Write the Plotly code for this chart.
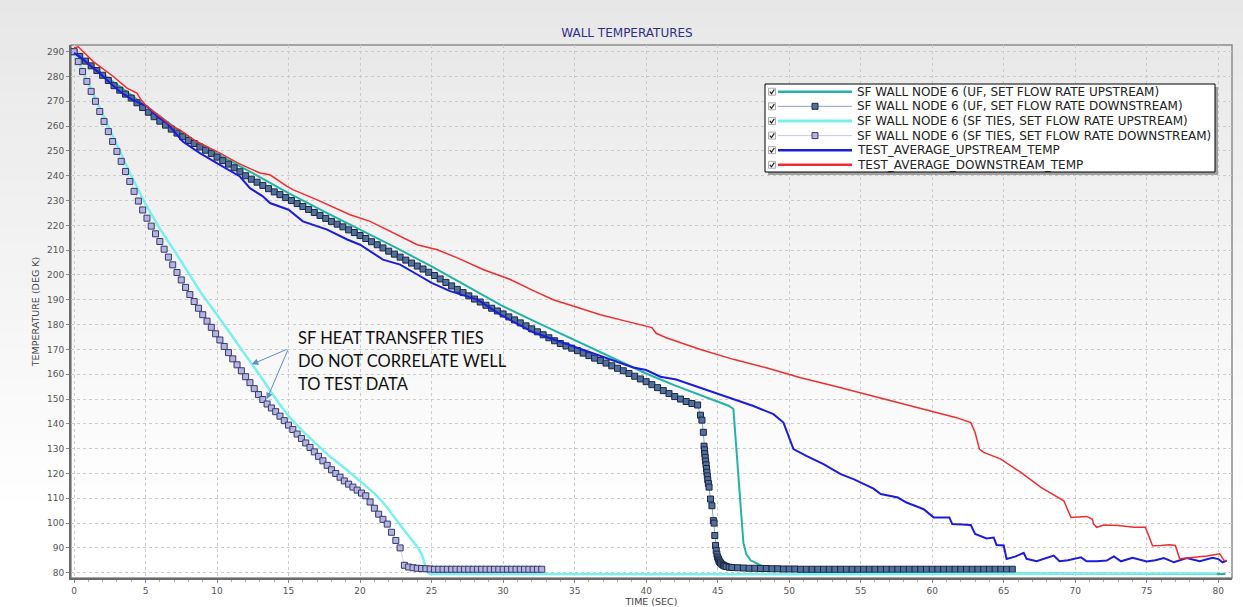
import plotly.graph_objects as go

# ---------------- data ----------------
# SF WALL NODE 6 (UF, SET FLOW RATE UPSTREAM)
UF_UP_TIME = [0, 1, 2, 3, 4, 5, 7.5, 10, 12.3, 15, 17.5, 20, 22.5, 25, 27.5, 30, 32.5, 35, 37.5,
              40, 42, 44, 45, 45.8, 46.1, 46.3, 46.5, 46.6, 46.7, 46.8, 47.0, 47.3, 48, 49, 50,
              52, 55, 60, 65, 70, 75, 80.5]
UF_UP_TEMP = [290, 285.3, 281, 276.8, 272.5, 268.3, 257.5, 248.8, 241.7, 233, 225.5, 218.3, 211,
              203.5, 195.5, 187.4, 180.5, 173.7, 167, 160.3, 155.5, 151, 149, 147.2, 146, 130,
              115, 108, 99, 92, 87.5, 85, 83, 81.5, 80.8, 80.3, 80, 79.8, 79.6, 79.5, 79.5, 79.5]

# SF WALL NODE 6 (UF, SET FLOW RATE DOWNSTREAM) - marker series, three pieces
UF_DN_A_START = 0.0
UF_DN_A_STEP = 0.4
UF_DN_A_TEMP = [
    290, 288.1, 286.2, 284.3, 282.4, 280.5, 278.4, 276.3, 274.5, 272.9,
    271.3, 269.4, 267.5, 265.6, 263.8, 262, 260.4, 258.8, 257.2, 255.7,
    254.2, 253, 251.6, 250.3, 249, 247.5, 246.1, 244.7, 243.2, 241.6,
    240, 238.6, 237.4, 236.1, 234.8, 233.5, 232.4, 231.2, 230, 228.8,
    227.6, 226.4, 225.2, 224, 222.8, 221.6, 220.5, 219.4, 218.2, 217.1,
    215.9, 214.7, 213.4, 212.2, 210.9, 209.6, 208.4, 207.2, 206, 204.8,
    203.6, 202.4, 201.1, 199.8, 198.4, 197, 195.6, 194.2, 192.9, 191.6,
    190.3, 189.1, 187.8, 186.6, 185.5, 184.3, 183.1, 181.9, 180.7, 179.5,
    178.3, 177.1, 175.9, 174.7, 173.5, 172.4, 171.4, 170.5, 169.5, 168.5,
    167.5, 166.5, 165.5, 164.5, 163.4, 162.4, 161.4, 160.3, 159.2, 158.1,
    157, 155.8, 154.6, 153.4, 152.2, 151, 150, 149, 148.2, 147.6]
UF_DN_DROP_TIME = [43.8, 43.9, 44.0, 44.05, 44.08, 44.1, 44.13, 44.16, 44.19, 44.22, 44.25,
                   44.28, 44.31, 44.35, 44.4, 44.5, 44.6, 44.7, 44.75, 44.8, 44.85, 44.9,
                   44.95, 45.0, 45.05, 45.1, 45.15, 45.2, 45.3, 45.4, 45.5, 45.6, 45.8]
UF_DN_DROP_TEMP = [143.5, 141.5, 136.6, 131, 129.5, 128, 126.5, 125, 123.5, 122, 120.5,
                   119, 117.5, 116, 114.5, 109.7, 107, 101, 100, 95, 91, 89,
                   87.5, 86.3, 85.5, 84.8, 84.3, 83.9, 83.4, 83, 82.7, 82.5, 82.2]
UF_DN_C_START = 46.0
UF_DN_C_STEP = 0.4
UF_DN_C_TEMP = [
    82.1, 82.0, 81.9, 81.8, 81.8, 81.7, 81.7, 81.6, 81.6, 81.5,
    81.5, 81.5, 81.4, 81.4, 81.4, 81.4, 81.4, 81.4, 81.4, 81.4,
    81.4, 81.4, 81.4, 81.4, 81.4, 81.4, 81.4, 81.4, 81.4, 81.4,
    81.4, 81.4, 81.4, 81.4, 81.4, 81.4, 81.4, 81.4, 81.4, 81.4,
    81.4, 81.4, 81.4, 81.4, 81.4, 81.4, 81.4, 81.4, 81.4, 81.4]

# SF WALL NODE 6 (SF TIES, SET FLOW RATE UPSTREAM)
TIES_UP_TIME = [0, 1, 2, 3, 4, 5, 6, 7, 8, 9, 10, 11, 12, 12.5, 13, 13.7, 14.4, 15.1, 16, 17,
                18, 19, 20, 21, 21.5, 22, 22.5, 23, 23.5, 24, 24.3, 24.5, 24.7, 24.9, 30, 40,
                50, 60, 70, 79.9]
TIES_UP_TEMP = [290, 277.5, 264.5, 252, 240, 228.6, 218.7, 209.9, 201, 191.8, 184, 176,
                168, 164, 159.5, 153.5, 147.7, 142.5, 137, 131.5, 126.3, 121.8, 117, 112,
                109, 105.5, 101.5, 97.5, 94, 90.5, 87.5, 84, 80.3, 79.5, 79.4, 79.4, 79.4,
                79.5, 79.6, 79.7]

# SF WALL NODE 6 (SF TIES, SET FLOW RATE DOWNSTREAM) - marker series
TIES_DN_START = 0.0
TIES_DN_STEP = 0.3
TIES_DN_TEMP = [
    290, 286, 282, 278, 274, 270, 265.9, 261.9, 257.8, 253.8,
    249.8, 245.8, 241.7, 237.7, 233.7, 229.8, 226.2, 222.9, 219.7, 216.6,
    213.5, 210.4, 207.2, 204.1, 201, 198, 195, 192.1, 189.3, 186.6,
    184, 181.4, 178.9, 176.3, 173.8, 171.2, 168.7, 166.2, 163.8, 161.4,
    159, 156.6, 154.2, 151.8, 149.8, 148, 146.4, 144.9, 143.1, 141.3,
    139.5, 137.7, 135.9, 134.1, 132.3, 130.5, 128.7, 126.9, 125.1, 123.3,
    121.5, 120, 118.5, 117, 115.7, 114.5, 113.3, 112.1, 111, 108.5,
    106, 103.6, 101.5, 99.6, 96.3, 93, 90, 83, 82.3, 82,
    81.8, 81.7, 81.6, 81.5, 81.4, 81.4, 81.4, 81.4, 81.4, 81.4,
    81.4, 81.4, 81.4, 81.4, 81.4, 81.4, 81.4, 81.4, 81.4, 81.4,
    81.4, 81.4, 81.4, 81.4, 81.4, 81.4, 81.4, 81.4, 81.4, 81.4]

# TEST_AVERAGE_UPSTREAM_TEMP
TEST_UP_TIME = [0, 0.5, 1.0, 1.8, 2.5, 3.3, 4.1, 5.1, 5.8, 6.5, 7.6, 8.8, 10.2, 11.6, 12.3, 13.2,
                13.7, 15, 16, 17.7, 19.1, 20, 21.6, 22.8, 24, 25, 26.3, 28.2, 29.6, 30, 32.1,
                33.5, 35, 37, 39.1, 40, 41, 42.1, 43.8, 45.2, 46.1, 47.5, 48.9, 49.6, 49.9,
                50.1, 50.3, 51.2, 52.4, 53.6, 54.5, 55.9, 56.4, 57.6, 58.2, 59.4, 59.8, 60.1,
                61.2, 61.4, 62.7, 63.0, 63.8, 64.3, 64.5, 65.0, 65.2, 65.8, 66.4, 66.6, 67.3,
                68.0, 68.5, 68.9, 69.5, 70.4, 70.8, 71.5, 72.2, 72.7, 73.2, 74.0, 75.0, 75.6,
                76.2, 76.9, 77.8, 78.7, 79.6, 80.0, 80.3, 80.6]
TEST_UP_TEMP = [289.5, 287.5, 285, 281.3, 277.5, 273.5, 270.6, 268, 264, 261.2, 253.8, 249.1,
                244.4, 239.7, 235, 231.7, 229, 226.3, 221.6, 218.3, 214.3, 212.2, 206.2, 204.2,
                200.2, 196.8, 193.5, 190.1, 184.8, 183.4, 176.9, 174, 171, 167, 162.7, 161.7,
                159, 157.9, 154.6, 151.9, 150, 147.2, 143.9, 140.5, 136, 132.5, 129.8, 127.1,
                123.8, 119.7, 117.7, 113.9, 111.7, 110.3, 108.3, 105.6, 103.6, 102.3, 102.3,
                99.6, 99.2, 95.6, 93.8, 94.2, 91.2, 91, 85.5, 86.5, 88, 85.6, 84.6, 86, 86.9,
                84.6, 85, 86.2, 84.6, 84.6, 84.9, 86.6, 84.6, 86, 84.5, 85, 85.9, 84.2, 85.9,
                84.6, 86, 85.5, 84.2, 84.9]

# TEST_AVERAGE_DOWNSTREAM_TEMP
TEST_DN_TIME = [0, 0.3, 1.35, 2.75, 3.7, 4.4, 4.7, 5.1, 6, 6.9, 7.4, 8.5, 10.2, 11.5, 13, 13.7,
                14.9, 15.3, 17, 19.3, 20.7, 21.6, 22.8, 24, 25.4, 26.8, 28.6, 30.5, 32, 33.5,
                35, 36.8, 38.5, 40, 40.4, 40.7, 41.4, 43.8, 46.1, 48.4, 50.8, 53, 55, 56.8,
                59.4, 61.7, 62.7, 63, 63.3, 63.6, 64.8, 66.2, 67.6, 69.2, 69.5, 69.7, 70.8,
                71.2, 71.3, 71.5, 72, 73, 74.1, 74.9, 75.2, 75.4, 76, 76.6, 77.0, 77.3, 78,
                78.5, 79.2, 80.1, 80.4, 80.6]
TEST_DN_TEMP = [291.5, 292, 286, 280, 275.3, 273.3, 270.5, 267.9, 263.9, 259.8, 258.5, 254,
                249.1, 245, 241.1, 240.4, 235.7, 234.4, 230.3, 224.3, 221.6, 219, 215.6, 212.2,
                210.2, 206.9, 202.2, 198.2, 194, 190, 187.3, 184, 181.5, 179.4, 178.8, 176.5,
                174.7, 170, 166, 162.6, 158.6, 155.5, 152.5, 149.9, 145.9, 142.5, 140.5, 136.5,
                129.8, 128.5, 125.8, 120.4, 114.4, 109, 105, 102.3, 102.7, 101.5, 99.5, 98.3,
                99.2, 99, 98.3, 98.3, 94, 90.9, 91, 91.3, 91, 85.6, 86, 86.3, 86.7, 87.6, 85,
                84.9]

SERIES_NAMES = [
    "SF WALL NODE 6 (UF, SET FLOW RATE UPSTREAM)",
    "SF WALL NODE 6 (UF, SET FLOW RATE DOWNSTREAM)",
    "SF WALL NODE 6 (SF TIES, SET FLOW RATE UPSTREAM)",
    "SF WALL NODE 6 (SF TIES, SET FLOW RATE DOWNSTREAM)",
    "TEST_AVERAGE_UPSTREAM_TEMP",
    "TEST_AVERAGE_DOWNSTREAM_TEMP",
]
X_TICKS = [0, 5, 10, 15, 20, 25, 30, 35, 40, 45, 50, 55, 60, 65, 70, 75, 80]
Y_TICKS = [80, 90, 100, 110, 120, 130, 140, 150, 160, 170, 180, 190, 200, 210, 220, 230, 240,
           250, 260, 270, 280, 290]
NOTE_LINES = ["SF HEAT TRANSFER TIES", "DO NOT CORRELATE WELL", "TO TEST DATA"]

# ---------------- assemble marker-series time bases ----------------
uf_dn_time = ([round(UF_DN_A_START + i * UF_DN_A_STEP, 3) for i in range(len(UF_DN_A_TEMP))]
              + UF_DN_DROP_TIME
              + [round(UF_DN_C_START + i * UF_DN_C_STEP, 3) for i in range(len(UF_DN_C_TEMP))])
uf_dn_temp = UF_DN_A_TEMP + UF_DN_DROP_TEMP + UF_DN_C_TEMP
ties_dn_time = [round(TIES_DN_START + i * TIES_DN_STEP, 3) for i in range(len(TIES_DN_TEMP))]

# ---------------- styles ----------------
C_TEAL = "#22b3a6"
C_CYAN = "#78f0ee"
C_BLUE = "#1c1cdc"
C_RED = "#ee2e2e"
C_SQ_FILL = "#52709e"
C_SQ_EDGE = "#1b2742"
C_SQ_LINE = "#8fa2c2"
C_TD_FILL = "#b3b3e4"
C_TD_EDGE = "#3a3a68"
C_TD_LINE = "#c9c9e8"

W, H = 1243, 607
L, T, PW, PH = 71, 45, 1161, 533
X_RANGE = [-0.21, 80.96]
Y_RANGE = [77.87, 292.7]


def px(xp):
    return (xp - L) / PW


def py(yp):
    return (T + PH - yp) / PH


def pix_to_temp(yp):
    return Y_RANGE[1] - (yp - T) / PH * (Y_RANGE[1] - Y_RANGE[0])


fig = go.Figure()
fig.add_trace(go.Scatter(x=UF_UP_TIME, y=UF_UP_TEMP, mode="lines", name=SERIES_NAMES[0],
                         line=dict(color=C_TEAL, width=2)))
fig.add_trace(go.Scatter(x=uf_dn_time, y=uf_dn_temp, mode="lines+markers", name=SERIES_NAMES[1],
                         line=dict(color=C_SQ_LINE, width=1),
                         marker=dict(symbol="square", size=6, color=C_SQ_FILL,
                                     line=dict(color=C_SQ_EDGE, width=1))))
fig.add_trace(go.Scatter(x=TIES_UP_TIME, y=TIES_UP_TEMP, mode="lines", name=SERIES_NAMES[2],
                         line=dict(color=C_CYAN, width=2.5)))
fig.add_trace(go.Scatter(x=ties_dn_time, y=TIES_DN_TEMP, mode="lines+markers", name=SERIES_NAMES[3],
                         line=dict(color=C_TD_LINE, width=0.8),
                         marker=dict(symbol="square", size=6, color=C_TD_FILL,
                                     line=dict(color=C_TD_EDGE, width=1))))
fig.add_trace(go.Scatter(x=TEST_UP_TIME, y=TEST_UP_TEMP, mode="lines", name=SERIES_NAMES[4],
                         line=dict(color=C_BLUE, width=2)))
fig.add_trace(go.Scatter(x=TEST_DN_TIME, y=TEST_DN_TEMP, mode="lines", name=SERIES_NAMES[5],
                         line=dict(color=C_RED, width=1.5)))

shapes = []
# vertical grey gradient background (whole picture)
NB = 40
for i in range(NB):
    y0 = i * H / NB
    y1 = (i + 1) * H / NB + 0.5
    frac = (i + 0.5) / NB
    c = int(round(231 + 24 * min(1.0, frac / 0.85)))
    col = f"rgb({c},{c},{c})"
    shapes.append(dict(type="rect", xref="paper", yref="paper", layer="below",
                       x0=px(0), x1=px(W), y0=py(y1), y1=py(y0),
                       fillcolor=col, line=dict(width=0)))
# plot frame
shapes.append(dict(type="rect", xref="paper", yref="paper", layer="below",
                   x0=0, x1=1, y0=0, y1=1, line=dict(color="#8c8c8c", width=1.5)))

# custom legend box with shadow
LX0, LX1, LY0, LY1 = 765, 1215, 84, 172
shapes.append(dict(type="rect", xref="paper", yref="paper", layer="above",
                   x0=px(LX0 + 3), x1=px(LX1 + 3), y0=py(LY1 + 3), y1=py(LY0 + 3),
                   fillcolor="#a0a0a0", line=dict(width=0)))
shapes.append(dict(type="rect", xref="paper", yref="paper", layer="above",
                   x0=px(LX0), x1=px(LX1), y0=py(LY1), y1=py(LY0),
                   fillcolor="white", line=dict(color="black", width=1)))
row_y = [91.7, 106.3, 121.0, 135.6, 150.2, 164.8]
sample_styles = [
    dict(color=C_TEAL, width=2.5, marker=None),
    dict(color=C_SQ_LINE, width=1, marker=(C_SQ_FILL, C_SQ_EDGE)),
    dict(color=C_CYAN, width=3, marker=None),
    dict(color=C_TD_LINE, width=1, marker=(C_TD_FILL, C_TD_EDGE)),
    dict(color=C_BLUE, width=2.5, marker=None),
    dict(color=C_RED, width=2.5, marker=None),
]
annotations = []
for yy, st, name in zip(row_y, sample_styles, SERIES_NAMES):
    # checkbox
    shapes.append(dict(type="rect", xref="paper", yref="paper", layer="above",
                       x0=px(768.5), x1=px(775.5), y0=py(yy + 3.5), y1=py(yy - 3.5),
                       fillcolor="#f4f4f4", line=dict(color="#9a9a9a", width=0.8)))
    shapes.append(dict(type="path", xref="paper", yref="paper", layer="above",
                       path=f"M {px(769.8)},{py(yy)} L {px(771.5)},{py(yy + 2)} L {px(774.3)},{py(yy - 2.2)}",
                       line=dict(color="#222", width=1.2)))
    # line sample
    shapes.append(dict(type="line", xref="paper", yref="paper", layer="above",
                       x0=px(778), x1=px(852), y0=py(yy), y1=py(yy),
                       line=dict(color=st["color"], width=st["width"])))
    if st["marker"]:
        f, e = st["marker"]
        shapes.append(dict(type="rect", xref="paper", yref="paper", layer="above",
                           x0=px(812), x1=px(818), y0=py(yy + 3), y1=py(yy - 3),
                           fillcolor=f, line=dict(color=e, width=1)))
    annotations.append(dict(xref="paper", yref="paper", x=px(855), y=py(yy), xanchor="left",
                            yanchor="middle", showarrow=False, text=name,
                            font=dict(family="DejaVu Sans", size=12, color="#222")))

# note text (one annotation per line) and arrows
for line_text, yp in zip(NOTE_LINES, [338, 361, 384]):
    annotations.append(dict(xref="x", yref="y", x=15.55, y=pix_to_temp(yp), xanchor="left",
                            yanchor="middle", align="left", showarrow=False, text=line_text,
                            font=dict(family="Lato", size=16.5, color="#111")))
for hx, hy in [(12.43, 164.0), (13.48, 149.9)]:
    annotations.append(dict(xref="x", yref="y", x=hx, y=hy, axref="x", ayref="y",
                            ax=14.99, ay=170.3, showarrow=True, text="",
                            arrowhead=2, arrowsize=1.3, arrowwidth=1, arrowcolor="#5b8fc9"))

fig.update_layout(
    width=W, height=H, autosize=False,
    margin=dict(l=L, r=W - L - PW, t=T, b=H - T - PH),
    paper_bgcolor="#f0f0f0", plot_bgcolor="rgba(0,0,0,0)",
    showlegend=False,
    title=dict(text="WALL TEMPERATURES", xref="container", yref="container",
               x=627 / W, y=1 - 33 / H, xanchor="center", yanchor="middle",
               font=dict(family="DejaVu Sans", size=12, color="#2e2e8c")),
    shapes=shapes, annotations=annotations,
    xaxis=dict(range=X_RANGE, tickvals=X_TICKS, showgrid=True, gridcolor="#cbcbcb",
               griddash="dot", gridwidth=1, zeroline=False, showline=True, linecolor="#6a6a6a",
               linewidth=2, ticks="outside", ticklen=3, tickcolor="#888", automargin=False,
               tickfont=dict(family="DejaVu Sans", size=9, color="#555"),
               minor=dict(ticks="outside", ticklen=2, dtick=1, tickcolor="#aaa", showgrid=False),
               title=dict(text="TIME (SEC)", standoff=9,
                          font=dict(family="DejaVu Sans", size=9.5, color="#444"))),
    yaxis=dict(range=Y_RANGE, tickvals=Y_TICKS, showgrid=True, gridcolor="#cbcbcb",
               griddash="dot", gridwidth=1, zeroline=False, showline=True, linecolor="#6a6a6a",
               linewidth=2, ticks="outside", ticklen=3, tickcolor="#888", automargin=False,
               tickfont=dict(family="DejaVu Sans", size=9, color="#555"),
               title=dict(text="TEMPERATURE (DEG K)", standoff=6,
                          font=dict(family="DejaVu Sans", size=9.5, color="#444"))),
)

fig.write_html("out.html")
